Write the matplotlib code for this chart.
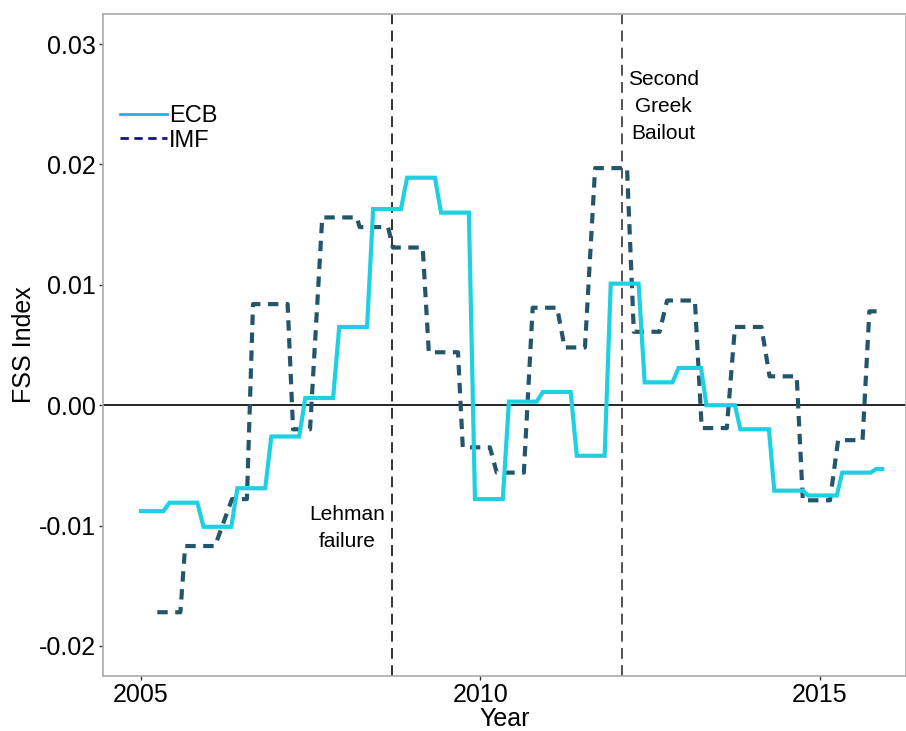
import matplotlib
matplotlib.use('Agg')
import matplotlib.pyplot as plt
from matplotlib.lines import Line2D

# ECB index: half-year periods (start, end in decimal years) and level
ecb_start = [2005.00, 2005.42, 2005.92, 2006.42, 2006.92, 2007.42, 2007.92, 2008.42,
             2008.92, 2009.42, 2009.92, 2010.42, 2010.92, 2011.42, 2011.92, 2012.42,
             2012.92, 2013.33, 2013.83, 2014.33, 2014.83, 2015.33, 2015.83]
ecb_end = [2005.33, 2005.83, 2006.33, 2006.83, 2007.33, 2007.83, 2008.33, 2008.83,
           2009.33, 2009.83, 2010.33, 2010.83, 2011.33, 2011.83, 2012.33, 2012.83,
           2013.25, 2013.75, 2014.25, 2014.75, 2015.25, 2015.75, 2015.92]
ecb_val = [-0.0088, -0.0081, -0.0101, -0.0069, -0.0026, 0.0006, 0.0065, 0.0163,
           0.0189, 0.0160, -0.0078, 0.0003, 0.0011, -0.0042, 0.0101, 0.0019,
           0.0031, 0.0000, -0.0020, -0.0071, -0.0075, -0.0056, -0.0053]

# IMF index
imf_start = [2005.24, 2005.65, 2006.34, 2006.65, 2007.24, 2007.67, 2008.22, 2008.71,
             2009.24, 2009.74, 2010.24, 2010.77, 2011.24, 2011.69, 2012.26, 2012.75,
             2013.26, 2013.75, 2014.26, 2014.75, 2015.27, 2015.73]
imf_end = [2005.58, 2006.09, 2006.56, 2007.16, 2007.49, 2008.18, 2008.64, 2009.15,
           2009.67, 2010.14, 2010.64, 2011.13, 2011.54, 2012.16, 2012.64, 2013.16,
           2013.63, 2014.14, 2014.66, 2015.15, 2015.63, 2015.91]
imf_val = [-0.0172, -0.0117, -0.0078, 0.0084, -0.0020, 0.0156, 0.0148, 0.0131,
           0.0044, -0.0035, -0.0056, 0.0081, 0.0048, 0.0197, 0.0061, 0.0087,
           -0.0019, 0.0065, 0.0024, -0.0079, -0.0029, 0.0078]

events = [2008.70, 2012.08]
event_labels = ['Lehman\nfailure', 'Second\nGreek\nBailout']

xticks = [2005, 2010, 2015]
yticks = [-0.02, -0.01, 0.00, 0.01, 0.02, 0.03]
ytick_labels = ['-0.02', '-0.01', '0.00', '0.01', '0.02', '0.03']


def corners(starts, ends, vals):
    xs, ys = [], []
    for s, e, v in zip(starts, ends, vals):
        xs += [s, e]
        ys += [v, v]
    return xs, ys


plt.rcParams['font.family'] = ['Liberation Sans', 'DejaVu Sans']
narrow = ['Liberation Sans Narrow', 'Liberation Sans']

fig = plt.figure(figsize=(9.06, 7.31), dpi=100)
ax = fig.add_axes([0.1137, 0.0752, 0.8863, 0.9056])

ex, ey = corners(ecb_start, ecb_end, ecb_val)
ix, iy = corners(imf_start, imf_end, imf_val)

ax.axhline(0, color='black', lw=1.2, zorder=1)
ax.axvline(events[0], color='#222222', lw=1.3, dashes=(6, 3.5), zorder=1)
ax.axvline(events[1], color='#444444', lw=1.3, dashes=(6, 3.5), zorder=1)

ax.plot(ex, ey, color='#1fd0e2', lw=3.0, solid_joinstyle='miter', zorder=3)
ax.plot(ix, iy, color='#24566b', lw=3.0, dashes=(2.5, 1.8), zorder=2)

ax.text(2008.04, -0.0102, event_labels[0], ha='center', va='center',
        fontsize=15, linespacing=1.55)
ax.text(2012.70, 0.0248, event_labels[1], ha='center', va='center',
        fontsize=15, linespacing=1.55)

ax.set_xlim(2004.44, 2016.27)
ax.set_ylim(-0.0225, 0.0325)
ax.set_xticks(xticks)
ax.set_xticklabels([str(t) for t in xticks], family=narrow)
ax.set_yticks(yticks)
ax.set_yticklabels(ytick_labels)
ax.tick_params(labelsize=18, length=3, width=1, color='#333333', pad=2)

ax.set_xlabel('Year', fontsize=18, labelpad=0, family=narrow)
ax.set_ylabel('FSS Index', fontsize=18, labelpad=2)

for sp in ax.spines.values():
    sp.set_color('#aaaaaa')
    sp.set_linewidth(1.2)

handles = [Line2D([0], [0], color='#1ab4e8', lw=2),
           Line2D([0], [0], color='#15157a', lw=2, dashes=(3, 2))]
ax.legend(handles, ['ECB', 'IMF'], loc='upper left', bbox_to_anchor=(0.006, 0.88),
          frameon=False, fontsize=17, handlelength=2.0, handletextpad=0.1,
          labelspacing=0.1, borderpad=0)

fig.savefig('out.png', dpi=100)
